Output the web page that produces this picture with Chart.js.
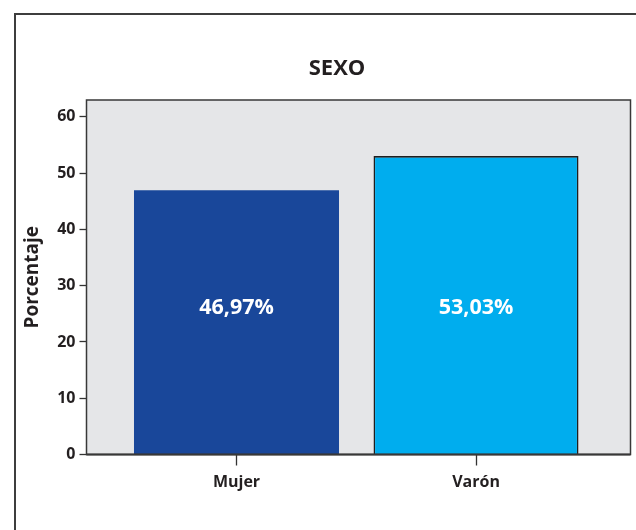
<!DOCTYPE html>
<html>
<head>
<meta charset="utf-8">
<script src="https://cdn.jsdelivr.net/npm/chart.js@4.4.1/dist/chart.umd.min.js"></script>
<style>
  body { margin: 0; background: #fff; }
  #wrap { position: relative; width: 636px; height: 530px; overflow: hidden; }
  #frame { position: absolute; left: 14px; top: 13px; width: 700px; height: 600px; border: 2px solid #3d3d3d; }
  #chart { position: absolute; left: 0; top: 0; }
</style>
</head>
<body>
<div id="wrap">
  <div id="frame"></div>
  <canvas id="chart" width="636" height="530"></canvas>
</div>
<script>
// datos
const categorias = ['Mujer', 'Varón'];
const porcentajes = [46.97, 53.03];
const etiquetas = ['46,97%', '53,03%'];
const yTicks = [0, 10, 20, 30, 40, 50, 60];
const titulo = 'SEXO';
const tituloEje = 'Porcentaje';

const colores = ['#19479a', '#00adee'];
const bordes = [0, 1.6];
const nivelEtiqueta = 26; // altura de las etiquetas dentro de las barras

Chart.defaults.font.family = "'Open Sans', sans-serif";
Chart.defaults.font.weight = 'bold';
Chart.defaults.color = '#231f20';

// fondo gris y marco del area de trazado, titulo y etiquetas
const fondo = {
  id: 'fondo',
  beforeDraw(chart) {
    const a = chart.chartArea, ctx = chart.ctx;
    ctx.save();
    ctx.fillStyle = '#e5e6e8';
    ctx.fillRect(a.left, a.top, a.right - a.left, a.bottom - a.top);
    ctx.restore();
  },
  afterDatasetsDraw(chart) {
    const a = chart.chartArea, ctx = chart.ctx;
    ctx.save();
    ctx.strokeStyle = '#383838';
    ctx.lineWidth = 1.5;
    ctx.strokeRect(a.left, a.top, a.right - a.left, a.bottom - a.top);
    ctx.lineWidth = 2;
    ctx.beginPath();
    ctx.moveTo(a.left, a.bottom);
    ctx.lineTo(a.right, a.bottom);
    ctx.stroke();

    // etiquetas de valor
    const meta = chart.getDatasetMeta(0);
    const y = chart.scales.y.getPixelForValue(nivelEtiqueta);
    ctx.fillStyle = '#ffffff';
    ctx.font = "bold 21.5px 'Open Sans'";
    ctx.textAlign = 'center';
    ctx.textBaseline = 'middle';
    meta.data.forEach(function(bar, i) {
      ctx.fillText(etiquetas[i], bar.x, y);
    });

    // titulo
    ctx.fillStyle = '#231f20';
    ctx.font = "bold 22px 'Open Sans'";
    ctx.fillText(titulo, 337, 69);
    ctx.restore();
  }
};

new Chart(document.getElementById('chart'), {
  type: 'bar',
  data: {
    datasets: [{
      data: porcentajes.map(function(v, i) { return { x: i, y: v }; }),
      backgroundColor: colores,
      borderColor: '#1e1e1e',
      borderWidth: bordes,
      borderSkipped: 'bottom',
      categoryPercentage: 1,
      barPercentage: 0.856
    }]
  },
  options: {
    responsive: false,
    animation: false,
    layout: { padding: { top: 100, right: 5.5, bottom: 0, left: 0 } },
    plugins: {
      legend: { display: false },
      tooltip: { enabled: false },
      title: { display: false }
    },
    scales: {
      x: {
        type: 'linear',
        offset: false,
        min: -0.6263,
        max: 1.645,
        afterBuildTicks: function(scale) {
          scale.ticks = categorias.map(function(c, i) { return { value: i }; });
        },
        afterFit: function(scale) { scale.height = 75.5; },
        border: { display: false },
        grid: {
          offset: false,
          drawOnChartArea: false,
          drawTicks: true,
          tickLength: 11,
          tickWidth: 1.3,
          tickColor: '#333'
        },
        ticks: {
          padding: 7,
          font: { size: 16, weight: 'bold' },
          callback: function(v) { return categorias[v]; }
        }
      },
      y: {
        min: 0,
        max: 63,
        afterBuildTicks: function(scale) {
          scale.ticks = yTicks.map(function(v) { return { value: v }; });
        },
        afterFit: function(scale) { scale.width = 86.5; },
        border: { display: false },
        grid: {
          drawOnChartArea: false,
          drawTicks: true,
          tickLength: 7,
          tickWidth: 1.3,
          tickColor: '#333'
        },
        ticks: {
          padding: 4,
          font: { size: 16, weight: 'bold' }
        },
        title: {
          display: true,
          text: tituloEje,
          padding: { top: 21.6, bottom: 0 },
          font: { size: 19, weight: 'bold' }
        }
      }
    }
  },
  plugins: [fondo]
});
</script>
</body>
</html>
